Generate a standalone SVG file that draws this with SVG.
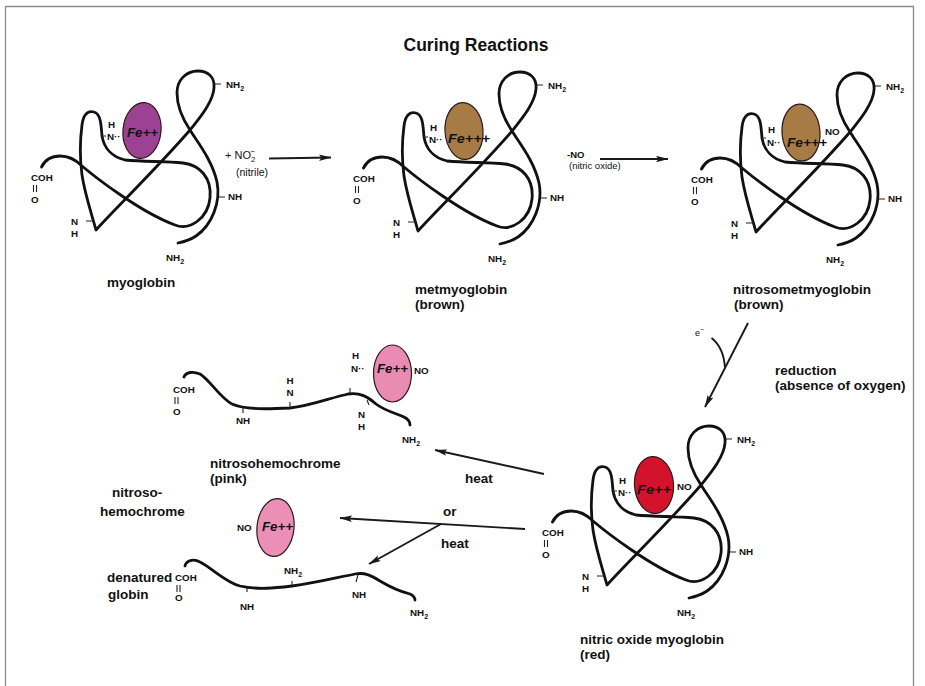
<svg xmlns="http://www.w3.org/2000/svg" width="925" height="686" viewBox="0 0 925 686">
<style>
  text { font-family: "Liberation Sans", Arial, sans-serif; fill: #111; }
  .lab { font-size: 9.8px; font-weight: bold; }
  .sub { font-size: 7px; }
  .name { font-size: 13.5px; font-weight: bold; }
  .fe { font-size: 12px; font-weight: bold; font-style: italic; }
  .chain { fill: none; stroke: #111; stroke-width: 2.8; stroke-linecap: round; stroke-linejoin: round; }
  .tick { fill: none; stroke: #222; stroke-width: 1.1; }
  .heme { stroke: #2a1a1a; stroke-width: 1.2; }
  .arrow { fill: none; stroke: #1a1a1a; stroke-width: 1.9; }
</style>
<defs>
  <!-- folded globin chain, drawn once and placed for each molecule -->
  <path id="globin" class="chain" d="M41.5,167 C45,160 52,156 60,156 C69,156 76,160 82,166 C95,177 140,212 175,225 C190,231 208,218 210,198 C212,178 200,165 183,163 C165,161 145,162 125,160 C112,157 104,148 102,136 C101,125 101,114 94,112 C87,110 83,116 82,125 C80,140 80,160 82,175 C85,195 92,215 96,230 C110,214 160,165 190,130 C197,121 213,103 214,88 C215,77 208,71 198,71 C186,71 177,80 177,93 C177,108 184,121 190,130 C198,143 212,160 217,182 C221,202 212,225 196,236 C190,240 183,242 178,243"/>
  <!-- side groups common to every folded molecule -->
  <g id="sidegroups">
    <path class="tick" d="M215,84 H221 M102,136 H106 M86,221 H94 M219,197 H225 M33.5,185 V192 M36.5,185 V192"/>
    <text class="lab" x="226" y="88">NH<tspan class="sub" dy="2.5">2</tspan></text>
    <text class="lab" x="31" y="181">COH</text>
    <text class="lab" x="31" y="203">O</text>
    <text class="lab" x="71" y="225">N</text>
    <text class="lab" x="71" y="237">H</text>
    <text class="lab" x="228" y="200">NH</text>
    <text class="lab" x="166" y="261">NH<tspan class="sub" dy="2.5">2</tspan></text>
  </g>
  <marker id="ah" markerUnits="userSpaceOnUse" markerWidth="13" markerHeight="7" refX="12" refY="3.2" orient="auto">
    <path d="M0,0 L12.5,3.2 L0,6.4 L2.5,3.2 Z" fill="#1a1a1a"/>
  </marker>
</defs>

<rect width="925" height="686" fill="#ffffff"/>
<path d="M5.5,686 V6.5 H913.5 V686" fill="none" stroke="#8a8a8a" stroke-width="1.3"/>

<text x="476" y="51" text-anchor="middle" font-size="17.5" font-weight="bold">Curing Reactions</text>

<!-- myoglobin -->
<g id="myoglobin">
  <use href="#globin"/>
  <use href="#sidegroups"/>
  <ellipse class="heme" cx="142" cy="130.5" rx="19" ry="28" fill="#9d4192" transform="rotate(6 142 130.5)"/>
  <text class="lab" x="108" y="128">H</text>
  <text class="lab" x="107" y="140">N··</text>
  <text class="fe" x="127" y="137" textLength="31" lengthAdjust="spacingAndGlyphs">Fe++</text>
  <text class="name" x="107" y="287">myoglobin</text>
</g>

<!-- metmyoglobin -->
<g id="metmyoglobin">
  <g transform="translate(322,1)">
    <use href="#globin"/>
    <use href="#sidegroups"/>
    <ellipse class="heme" cx="142" cy="130" rx="19" ry="28.5" fill="#a67b46" transform="rotate(-4 142 130)"/>
    <text class="lab" x="108" y="130">H</text>
    <text class="lab" x="107" y="142">N··</text>
    <text class="fe" x="126" y="142" textLength="42" lengthAdjust="spacingAndGlyphs">Fe+++</text>
  </g>
  <text class="name" x="415" y="294">metmyoglobin</text>
  <text class="name" x="415" y="309">(brown)</text>
</g>

<!-- nitrosometmyoglobin -->
<g id="nitrosometmyoglobin">
  <g transform="translate(660,2)">
    <use href="#globin"/>
    <use href="#sidegroups"/>
    <ellipse class="heme" cx="141" cy="130.5" rx="19" ry="28.5" fill="#a67b46" transform="rotate(-4 141 130.5)"/>
    <text class="lab" x="108" y="131">H</text>
    <text class="lab" x="107" y="144">N··</text>
    <text class="fe" x="127" y="145" textLength="40" lengthAdjust="spacingAndGlyphs">Fe+++</text>
    <text class="lab" x="165" y="133">NO</text>
  </g>
  <text class="name" x="733" y="294">nitrosometmyoglobin</text>
  <text class="name" x="734" y="309">(brown)</text>
</g>

<!-- nitric oxide myoglobin -->
<g id="nitric-oxide-myoglobin">
  <g transform="translate(511,355)">
    <use href="#globin"/>
    <use href="#sidegroups"/>
    <ellipse class="heme" cx="143" cy="130" rx="19.5" ry="28.5" fill="#d3132b" transform="rotate(-4 143 130)"/>
    <text class="lab" x="108" y="129">H</text>
    <text class="lab" x="107" y="141">N··</text>
    <text class="fe" x="126" y="139" textLength="34" lengthAdjust="spacingAndGlyphs">Fe++</text>
    <text class="lab" x="166" y="135">NO</text>
  </g>
  <text class="name" x="580" y="644">nitric oxide myoglobin</text>
  <text class="name" x="580" y="659">(red)</text>
</g>

<!-- nitrosohemochrome -->
<g id="nitrosohemochrome">
  <path class="chain" d="M184,377 C186,372 193,371 200,374 C210,380 220,398 232,404 C245,410 270,409 290,408 C310,406 330,398 348,394 C360,392 368,397 376,404 C385,411 398,414 404,417 C408,419 410,422 410,425"/>
  <path class="tick" d="M243,408 V413 M290,408 V402 M350,394 V388 M367,400 L369,405 M175,397 V404 M178,397 V404"/>
  <text class="lab" x="173" y="393">COH</text>
  <text class="lab" x="173" y="415">O</text>
  <text class="lab" x="243" y="424" text-anchor="middle">NH</text>
  <text class="lab" x="290" y="384" text-anchor="middle">H</text>
  <text class="lab" x="290" y="396" text-anchor="middle">N</text>
  <text class="lab" x="352" y="359">H</text>
  <text class="lab" x="351" y="372">N··</text>
  <text class="lab" x="358" y="418">N</text>
  <text class="lab" x="358" y="430">H</text>
  <text class="lab" x="402" y="443">NH<tspan class="sub" dy="2.5">2</tspan></text>
  <ellipse class="heme" cx="392.5" cy="373.5" rx="19" ry="28.5" fill="#ea8bb3"/>
  <text class="fe" x="377" y="373" textLength="31" lengthAdjust="spacingAndGlyphs">Fe++</text>
  <text class="lab" x="414" y="374">NO</text>
  <text class="name" x="210" y="468">nitrosohemochrome</text>
  <text class="name" x="210" y="483">(pink)</text>
</g>

<!-- nitrosohemochrome released from the denatured globin -->
<g id="free-nitrosohemochrome">
  <ellipse class="heme" cx="275.5" cy="527.5" rx="18.5" ry="29" fill="#ec8fb7" transform="rotate(6 275.5 527.5)"/>
  <text class="fe" x="262" y="531" textLength="31" lengthAdjust="spacingAndGlyphs">Fe++</text>
  <text class="lab" x="237" y="531">NO</text>
  <text class="name" x="112" y="497">nitroso-</text>
  <text class="name" x="100" y="516">hemochrome</text>
</g>

<!-- denatured globin -->
<g id="denatured-globin">
  <path class="chain" d="M185,566 C186,561 193,558 200,562 C212,568 225,582 240,586 C258,590 275,588 292,586 C315,583 335,578 355,574 C365,572 372,576 380,581 C390,587 402,592 410,594 C414,596 415,598 415,600"/>
  <path class="tick" d="M292,586 V581 M247,587 V592 M358,575 L356,582 M177,585 V592 M180,585 V592"/>
  <text class="lab" x="175" y="581">COH</text>
  <text class="lab" x="175" y="601">O</text>
  <text class="lab" x="284" y="574">NH<tspan class="sub" dy="2.5">2</tspan></text>
  <text class="lab" x="240" y="610">NH</text>
  <text class="lab" x="352" y="598">NH</text>
  <text class="lab" x="410" y="616">NH<tspan class="sub" dy="2.5">2</tspan></text>
  <text class="name" x="107" y="582">denatured</text>
  <text class="name" x="108" y="599">globin</text>
</g>

<!-- reaction arrows -->
<g id="connectors">
  <path class="arrow" d="M269,158.5 L331,157.5" marker-end="url(#ah)"/>
  <path class="arrow" d="M600,159 L668,159" marker-end="url(#ah)"/>
  <path class="arrow" d="M748,323 L705,407" marker-end="url(#ah)"/>
  <path class="arrow" d="M711.5,338 C718,343 724,352 725,368"/>
  <path class="arrow" d="M544,474 L435,450" marker-end="url(#ah)"/>
  <path class="arrow" d="M525,529 L340,518" marker-end="url(#ah)"/>
  <path class="arrow" d="M441,524 L369,564" marker-end="url(#ah)"/>
</g>

<!-- arrow labels -->
<g id="arrow-labels">
  <text x="225" y="159" font-size="11">+ NO<tspan font-size="8" dy="3">2</tspan><tspan font-size="8" dx="-5" dy="-8">−</tspan></text>
  <text x="236" y="176" font-size="10.5">(nitrile)</text>
  <text x="567" y="158" font-size="9.5" font-weight="bold">-NO</text>
  <text x="569" y="169" font-size="9.5">(nitric oxide)</text>
  <text x="695" y="336" font-size="9">e<tspan font-size="7" dy="-4">−</tspan></text>
  <text class="name" x="775" y="375">reduction</text>
  <text class="name" x="775" y="390">(absence of oxygen)</text>
  <text class="name" x="465" y="483">heat</text>
  <text class="name" x="443" y="516">or</text>
  <text class="name" x="441" y="548">heat</text>
</g>
</svg>
